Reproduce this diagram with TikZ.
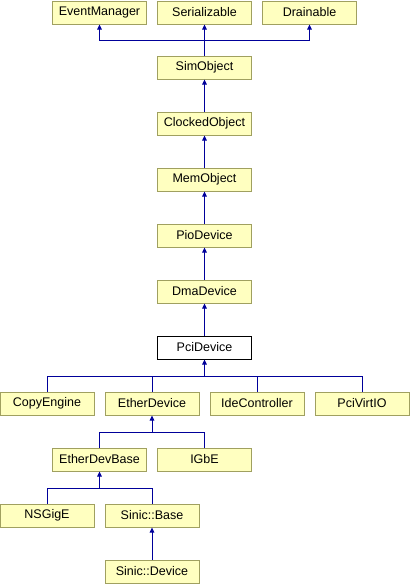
\documentclass[tikz,border=0pt]{standalone}
\usepackage{fontspec}
\setmainfont{Liberation Sans}
\usetikzlibrary{arrows.meta}
\definecolor{boxfill}{HTML}{FFFFC0}
\definecolor{boxline}{HTML}{A0A060}
\definecolor{edgecol}{HTML}{00009A}
\begin{document}
\begin{tikzpicture}[x=1pt,y=-1pt,
  cls/.style={draw=boxline,fill=boxfill,line width=1pt,minimum width=94pt,minimum height=23pt,inner sep=0pt,font=\fontsize{12.5}{14}\selectfont},
  cur/.style={cls,draw=black,fill=white},
  ln/.style={draw=edgecol,line width=1pt},
  arr/.style={ln,-{Triangle[length=5pt,width=4.5pt]}}]
\useasboundingbox (0,0) rectangle (410,584);
% top row
\node[cls] (em) at (99.5,12.5) {EventManager};
\node[cls] (ser) at (204.5,12.5) {Serializable};
\node[cls] (dr) at (309.5,12.5) {Drainable};
\node[cls] (sim) at (204.5,67.5) {SimObject};
\node[cls] (clk) at (204.5,123.5) {ClockedObject};
\node[cls] (mem) at (204.5,179.5) {MemObject};
\node[cls] (pio) at (204.5,235.5) {PioDevice};
\node[cls] (dma) at (204.5,291.5) {DmaDevice};
\node[cur] (pci) at (204.5,347.5) {PciDevice};
\node[cls] (ce) at (47,403.5) {CopyEngine};
\node[cls] (eth) at (152,403.5) {EtherDevice};
\node[cls] (ide) at (257,403.5) {IdeController};
\node[cls] (virt) at (362,403.5) {PciVirtIO};
\node[cls] (edb) at (99.5,459.5) {EtherDevBase};
\node[cls] (igbe) at (204.5,459.5) {IGbE};
\node[cls] (ns) at (47,515.5) {NSGigE};
\node[cls] (sb) at (152,515.5) {Sinic::Base};
\node[cls] (sd) at (152,571.5) {Sinic::Device};
% junctions
\coordinate (j0) at (204.5,40);
\coordinate (j1) at (204.5,376);
\coordinate (j2) at (152,432);
\coordinate (j3) at (99.5,488);
% SimObject -> three bases
\draw[arr] (sim.north) -- (ser.south);
\draw[arr] (j0) -| (em.south);
\draw[arr] (j0) -| (dr.south);
% chain
\draw[arr] (clk.north) -- (sim.south);
\draw[arr] (mem.north) -- (clk.south);
\draw[arr] (pio.north) -- (mem.south);
\draw[arr] (dma.north) -- (pio.south);
\draw[arr] (pci.north) -- (dma.south);
% PciDevice children
\draw[ln] (ce.north) |- (j1);
\draw[ln] (eth.north) |- (j1);
\draw[ln] (ide.north) |- (j1);
\draw[ln] (virt.north) |- (j1);
\draw[arr] (j1) -- (pci.south);
% EtherDevice children
\draw[ln] (edb.north) |- (j2);
\draw[ln] (igbe.north) |- (j2);
\draw[arr] (j2) -- (eth.south);
% EtherDevBase children
\draw[ln] (ns.north) |- (j3);
\draw[ln] (sb.north) |- (j3);
\draw[arr] (j3) -- (edb.south);
% Sinic
\draw[arr] (sd.north) -- (sb.south);
\end{tikzpicture}
\end{document}
